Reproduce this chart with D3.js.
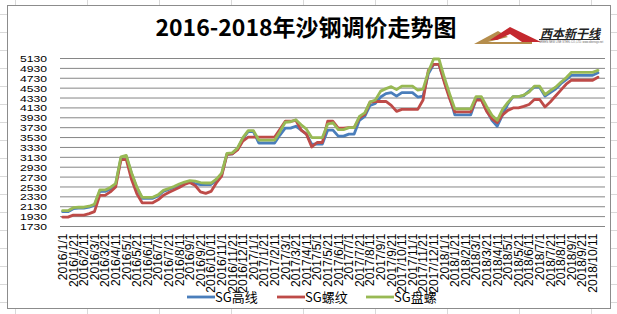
<!DOCTYPE html>
<html><head><meta charset="utf-8">
<script src="https://cdn.jsdelivr.net/npm/d3@7"></script>
<style>body{margin:0;background:#fff}svg{display:block}</style>
</head><body>
<svg id="c" width="617" height="314"></svg>
<script>
const dates = [
"2016/1/1","2016/1/11","2016/1/21","2016/2/1","2016/2/11","2016/2/21","2016/3/1","2016/3/11","2016/3/21","2016/4/1","2016/4/11","2016/4/21",
"2016/5/1","2016/5/11","2016/5/21","2016/6/1","2016/6/11","2016/6/21","2016/7/1","2016/7/11","2016/7/21","2016/8/1","2016/8/11","2016/8/21",
"2016/9/1","2016/9/11","2016/9/21","2016/10/1","2016/10/11","2016/10/21","2016/11/1","2016/11/11","2016/11/21","2016/12/1","2016/12/11","2016/12/21",
"2017/1/1","2017/1/11","2017/1/21","2017/2/1","2017/2/11","2017/2/21","2017/3/1","2017/3/11","2017/3/21","2017/4/1","2017/4/11","2017/4/21",
"2017/5/1","2017/5/11","2017/5/21","2017/6/1","2017/6/11","2017/6/21","2017/7/1","2017/7/11","2017/7/21","2017/8/1","2017/8/11","2017/8/21",
"2017/9/1","2017/9/11","2017/9/21","2017/10/1","2017/10/11","2017/10/21","2017/11/1","2017/11/11","2017/11/21","2017/12/1","2017/12/11","2017/12/21",
"2018/1/1","2018/1/11","2018/1/21","2018/2/1","2018/2/11","2018/2/21","2018/3/1","2018/3/11","2018/3/21","2018/4/1","2018/4/11","2018/4/21",
"2018/5/1","2018/5/11","2018/5/21","2018/6/1","2018/6/11","2018/6/21","2018/7/1","2018/7/11","2018/7/21","2018/8/1","2018/8/11","2018/8/21",
"2018/9/1","2018/9/11","2018/9/21","2018/10/1","2018/10/11","2018/10/21"];

// SG高线
const gaoxian = [
2030,2030,2090,2100,2100,2120,2160,2440,2440,2490,2580,3110,
3150,2800,2510,2300,2300,2300,2350,2440,2480,2520,2560,2600,
2630,2600,2580,2580,2580,2660,2780,3190,3200,3300,3510,3650,
3650,3420,3420,3420,3420,3580,3720,3720,3760,3680,3600,3390,
3400,3400,3680,3680,3560,3560,3600,3600,3880,3960,4180,4220,
4350,4420,4440,4370,4440,4440,4440,4350,4370,4820,5010,5010,
4680,4360,3990,3990,3990,3990,4300,4300,4080,3880,3760,3990,
4210,4360,4360,4380,4470,4550,4550,4370,4440,4510,4620,4700,
4790,4790,4790,4790,4790,4840];

// SG螺纹
const luowen = [
1920,1920,1960,1960,1960,1990,2030,2360,2360,2430,2530,3080,
3090,2680,2390,2210,2210,2210,2270,2360,2420,2470,2520,2580,
2620,2560,2430,2400,2440,2610,2750,3190,3200,3280,3460,3540,
3540,3540,3540,3540,3540,3700,3860,3860,3880,3680,3600,3340,
3430,3430,3860,3860,3720,3720,3730,3730,3930,4000,4250,4260,
4260,4260,4180,4060,4100,4100,4100,4100,4290,4890,5010,5010,
4650,4320,4050,4050,4050,4050,4290,4290,4060,3910,3830,3990,
4080,4130,4130,4160,4200,4300,4300,4150,4250,4370,4490,4610,
4690,4690,4690,4690,4690,4750];

// SG盘螺
const panluo = [
2050,2050,2110,2120,2120,2140,2180,2470,2470,2520,2600,3140,
3170,2820,2530,2320,2320,2320,2370,2460,2500,2540,2590,2630,
2660,2650,2620,2610,2610,2690,2810,3210,3220,3320,3530,3670,
3670,3480,3480,3480,3480,3650,3840,3850,3890,3790,3700,3530,
3530,3530,3800,3830,3690,3690,3730,3730,3960,4030,4250,4290,
4470,4520,4560,4500,4570,4570,4570,4490,4510,4860,5120,5120,
4750,4420,4110,4110,4110,4110,4360,4360,4160,3980,3880,4100,
4240,4360,4360,4390,4450,4570,4570,4400,4480,4550,4650,4740,
4850,4850,4850,4850,4850,4890];

const yTicks = [1730,1930,2130,2330,2530,2730,2930,3130,3330,3530,3730,3930,4130,4330,4530,4730,4930,5130];
const seriesNames = ["SG高线","SG螺纹","SG盘螺"];
const seriesData = [gaoxian, luowen, panluo];
const colors = ["#4A7EBB","#BE4B48","#98B954"];
const title = "2016-2018年沙钢调价走势图";

const svg = d3.select("#c");

// spreadsheet cell grid behind the chart
const cellCols = d3.range(14.5, 617, 72.1);
const cellRows = d3.range(13.5, 314, 18);
svg.append("g").selectAll("line").data(cellCols).join("line")
  .attr("x1", d => Math.round(d) + 0.5).attr("x2", d => Math.round(d) + 0.5)
  .attr("y1", 0).attr("y2", 314).attr("stroke", "#d9d9d9");
svg.append("g").selectAll("line").data(cellRows).join("line")
  .attr("y1", d => Math.round(d) + 0.5).attr("y2", d => Math.round(d) + 0.5)
  .attr("x1", 0).attr("x2", 617).attr("stroke", "#d9d9d9");

// chart area
svg.append("rect").attr("x", 7.5).attr("y", 5.5).attr("width", 603).attr("height", 303)
  .attr("fill", "#fff").attr("stroke", "#8c8c8c");

const plotL = 60, plotR = 605, step = 5.3;
const x = d3.scaleBand().domain(dates).range([plotL, plotL + step * dates.length]);
const y = d3.scaleLinear().domain([1730, 5130]).range([226.5, 58.5]);
const cx = d => x(d) + x.bandwidth() / 2;

// gridlines
svg.append("g").selectAll("line").data(yTicks).join("line")
  .attr("x1", plotL).attr("x2", plotR)
  .attr("y1", d => y(d)).attr("y2", d => y(d))
  .attr("stroke", "#868686").attr("stroke-width", 1);

// y axis
const yAxis = svg.append("g").attr("transform", `translate(${plotL},0)`)
  .call(d3.axisLeft(y).tickValues(yTicks).tickSize(0).tickPadding(13).tickFormat(d3.format("d")));
yAxis.select(".domain").remove();
yAxis.selectAll("text").attr("font-family", "Liberation Sans, Arial, sans-serif")
  .attr("font-size", 9.5).attr("fill", "#000")
  .attr("textLength", 27).attr("lengthAdjust", "spacingAndGlyphs");

// x axis
const xAxis = svg.append("g").attr("transform", `translate(0,${y(1730)})`)
  .call(d3.axisBottom(x).tickValues(dates.filter((d, i) => i % 2 === 0)).tickSize(0));
xAxis.select(".domain").remove();
xAxis.selectAll("text")
  .attr("font-family", "Liberation Sans, Arial, sans-serif").attr("font-size", 12).attr("fill", "#000")
  .attr("text-anchor", "end").attr("transform", "rotate(-90)")
  .attr("x", -7).attr("y", 0).attr("dy", "0.36em");

// lines
const line = d3.line().x((d, i) => cx(dates[i])).y(d => y(d));
seriesData.forEach((s, k) => {
  svg.append("path").datum(s).attr("d", line).attr("fill", "none")
    .attr("stroke", colors[k]).attr("stroke-width", 2.8)
    .attr("stroke-linejoin", "round").attr("stroke-linecap", "round");
});

// title
svg.append("text").attr("x", 306).attr("y", 36).attr("text-anchor", "middle")
  .attr("font-family", "Noto Sans CJK SC, sans-serif").attr("font-weight", "bold")
  .attr("font-size", 23).attr("fill", "#000").text(title);

// logo
const logo = svg.append("g");
logo.append("path").attr("d", "M474,44 L498,31 L508,37 L488,42 L532,42 L532,44 Z").attr("fill", "#B58D4C");
logo.append("path").attr("d", "M490,40 L510,27 L541,42 L522,42 L510,34 L497,40 Z").attr("fill", "#C4282E");
logo.append("text").attr("x", 540).attr("y", 38).attr("font-family", "Noto Sans CJK SC, sans-serif")
  .attr("font-weight", "bold").attr("font-style", "italic").attr("font-size", 12).attr("fill", "#222")
  .text("西本新干线");
logo.append("line").attr("x1", 539).attr("x2", 600).attr("y1", 39.5).attr("y2", 39.5).attr("stroke", "#222").attr("stroke-width", 1);
logo.append("text").attr("x", 539).attr("y", 43).attr("font-family", "Liberation Sans, sans-serif")
  .attr("font-size", 2.6).attr("fill", "#666").text("GREEN NEW LINE STEEL CO.,LTD.      www.xibenxgx.net");

// legend
const legendX = [187, 277, 366];
const lg = svg.append("g").selectAll("g").data(seriesNames).join("g")
  .attr("transform", (d, i) => `translate(${legendX[i]},297)`);
lg.append("line").attr("x1", 0).attr("x2", 28).attr("y1", 0).attr("y2", 0)
  .attr("stroke", (d, i) => colors[i]).attr("stroke-width", 2.8);
lg.append("text").attr("x", 28).attr("y", 0).attr("dy", "0.35em")
  .attr("font-family", "Noto Sans CJK SC, sans-serif").attr("font-size", 13).attr("fill", "#000")
  .text(d => d);
</script>
</body></html>
